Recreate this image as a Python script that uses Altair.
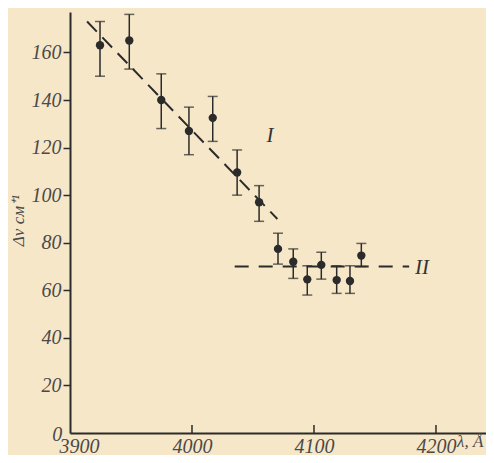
import altair as alt
import pandas as pd

# Data
wavelength = [3924.6, 3948.6, 3974.8, 3997.5, 4017, 4037, 4055, 4070.5, 4083, 4094.5, 4106, 4118.6, 4129.5, 4138.8]
delta_nu = [163, 165, 140, 127, 132.5, 109.5, 97, 77.4, 72, 64.6, 70.7, 64.3, 63.9, 74.6]
err_hi = [173, 176, 151, 137, 141.5, 119, 104, 84, 77.4, 70.3, 76, 70.3, 70.3, 79.7]
err_lo = [150, 153, 128, 117, 122.6, 100, 89, 71, 65, 58, 64.7, 58.7, 58.7, 70]

line1_x = [3914, 4070]
line1_y = [173, 90]
line2_x = [4035, 4178]
line2_y = [70, 70]

x_ticks = [3900, 4000, 4100, 4200]
y_ticks = [20, 40, 60, 80, 100, 120, 140, 160]

INK = "#2b2b2b"
BG = "#f7e7c9"
FONT = "Liberation Sans Narrow"
LBL = "#4a4a4a"

df = pd.DataFrame({"x": wavelength, "y": delta_nu, "hi": err_hi, "lo": err_lo})

xs = alt.Scale(domain=[3900, 4241], nice=False, zero=False)
ys = alt.Scale(domain=[0, 177], nice=False)

xaxis = alt.Axis(values=x_ticks, format="d", ticks=False, labelFont=FONT, labelFontStyle="italic",
                 labelFontSize=20, labelColor=LBL, labelPadding=3, domainColor=INK,
                 domainWidth=2, grid=False, title=None, labelFlush=True, labelFlushOffset=11)
yaxis = alt.Axis(values=y_ticks, tickSize=7, tickColor=INK, tickWidth=1.5, labelFont=FONT,
                 labelFontStyle="italic", labelFontSize=20, labelColor=LBL, labelPadding=2,
                 domainColor=INK, domainWidth=2, grid=False, title="Δν см⁺¹", titleFont=FONT,
                 titleFontStyle="italic", titleFontWeight="normal", titleFontSize=17, titleColor=LBL,
                 titleX=-43, titleY=208, titleAngle=270)

base = alt.Chart(df)

rules = base.mark_rule(color=INK, strokeWidth=1.5).encode(
    x=alt.X("x:Q", scale=xs, axis=xaxis), y=alt.Y("lo:Q", scale=ys, axis=yaxis), y2="hi:Q")
cap_hi = base.mark_tick(color=INK, orient="horizontal", size=10, thickness=1.5).encode(
    x=alt.X("x:Q", scale=xs), y=alt.Y("hi:Q", scale=ys))
cap_lo = base.mark_tick(color=INK, orient="horizontal", size=10, thickness=1.5).encode(
    x=alt.X("x:Q", scale=xs), y=alt.Y("lo:Q", scale=ys))
pts = base.mark_circle(color=INK, size=70, opacity=1).encode(
    x=alt.X("x:Q", scale=xs), y=alt.Y("y:Q", scale=ys))

l1 = alt.Chart(pd.DataFrame({"x": line1_x, "y": line1_y})).mark_line(
    color=INK, strokeWidth=2, strokeDash=[14, 8]).encode(x=alt.X("x:Q", scale=xs), y=alt.Y("y:Q", scale=ys))
l2 = alt.Chart(pd.DataFrame({"x": line2_x, "y": line2_y})).mark_line(
    color=INK, strokeWidth=2, strokeDash=[14, 10]).encode(x=alt.X("x:Q", scale=xs), y=alt.Y("y:Q", scale=ys))

xt = alt.Chart(pd.DataFrame({"x": x_ticks[1:], "y0": [0] * 3, "y1": [3.4] * 3})).mark_rule(
    color=INK, strokeWidth=1.5).encode(x=alt.X("x:Q", scale=xs), y=alt.Y("y0:Q", scale=ys), y2="y1:Q")

labels = alt.Chart(pd.DataFrame({
    "x": [4064, 4188.5], "y": [125, 69.3], "t": ["I", "II"]})).mark_text(
    font="Liberation Serif", fontStyle="italic", fontSize=21, color="#333", clip=False).encode(
    x=alt.X("x:Q", scale=xs), y=alt.Y("y:Q", scale=ys), text="t:N")

zero = alt.Chart(pd.DataFrame({"x": [3889.5], "y": [-0.8], "t": ["0"]})).mark_text(
    font=FONT, fontStyle="italic", fontSize=20, color=LBL, clip=False).encode(
    x=alt.X("x:Q", scale=xs), y=alt.Y("y:Q", scale=ys), text="t:N")

lam = alt.Chart(pd.DataFrame({"x": [4228], "y": [-3.6], "t": ["λ, Å"]})).mark_text(
    font=FONT, fontStyle="italic", fontSize=17, color=LBL, clip=False).encode(
    x=alt.X("x:Q", scale=xs), y=alt.Y("y:Q", scale=ys), text="t:N")

chart = alt.layer(rules, cap_hi, cap_lo, pts, l1, l2, xt, labels, zero, lam).properties(
    width=416, height=421,
    padding={"left": 62, "top": 4, "right": 0, "bottom": 22},
    autosize=alt.AutoSizeParams(type="none"),
    background=BG,
).configure_view(stroke=None)

chart.save("out.html", embed_options={"renderer": "svg", "actions": False})
